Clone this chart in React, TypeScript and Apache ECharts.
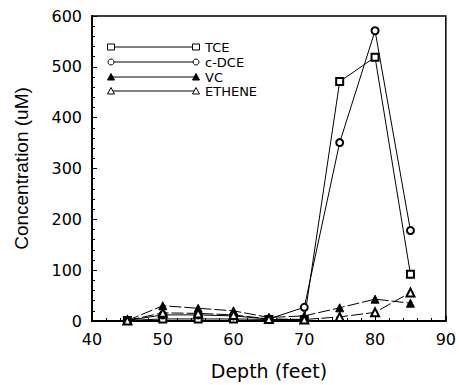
import React, { useEffect, useRef } from "react";
import * as echarts from "echarts";

const depths = [45, 50, 55, 60, 65, 70, 75, 80, 85];
const tce = [1, 4, 4, 4, 3, 3, 471, 519, 92];
const cdce = [1, 12, 12, 10, 4, 27, 351, 571, 178];
const vc = [1, 30, 25, 20, 7, 10, 26, 43, 35];
const ethene = [1, 16, 15, 12, 4, 3, 8, 17, 56];
const seriesNames = ["TCE", "c-DCE", "VC", "ETHENE"];

const WIDE = "DejaVu Sans, Verdana, sans-serif";
const NARROW = "Liberation Sans, Arial, Helvetica, sans-serif";

export default function App() {
  const ref = useRef<HTMLDivElement>(null);
  useEffect(() => {
    const chart = echarts.init(ref.current!, null, { renderer: "svg" });
    const pairs = (vals: number[]) => depths.map((d, i) => [d, vals[i]]);
    const mk = (name: string, vals: number[], symbol: string, dashed: boolean, size: number) => ({
      name,
      type: "line",
      data: pairs(vals),
      symbol,
      symbolSize: size,
      showAllSymbol: true,
      lineStyle: { color: "#000", width: 1, type: dashed ? [12, 3] : "solid" },
      itemStyle: { color: "#000", borderColor: "#000", borderWidth: 1 },
      z: 3,
    });
    const legendY = [47, 62, 77, 91];
    const x1 = 111, x2 = 196, tx = 205;
    const legendEls: any[] = [];
    seriesNames.forEach((name, i) => {
      const y = legendY[i];
      legendEls.push({
        type: "line",
        shape: { x1, y1: y, x2, y2: y },
        style: { stroke: "#000", lineWidth: 1 },
      });
      [x1, x2].forEach((x) => {
        if (i === 0) {
          legendEls.push({ type: "rect", shape: { x: x - 3.5, y: y - 3, width: 7, height: 6 }, style: { fill: "#fff", stroke: "#000", lineWidth: 1 } });
        } else if (i === 1) {
          legendEls.push({ type: "circle", shape: { cx: x, cy: y, r: 3 }, style: { fill: "#fff", stroke: "#000", lineWidth: 1 } });
        } else {
          legendEls.push({
            type: "polygon",
            shape: { points: [[x, y - 3.5], [x - 3.5, y + 3], [x + 3.5, y + 3]] },
            style: { fill: i === 2 ? "#000" : "#fff", stroke: "#000", lineWidth: 1 },
          });
        }
      });
      legendEls.push({
        type: "text",
        x: tx,
        y,
        style: { text: name, fill: "#000", font: `13px ${WIDE}`, verticalAlign: "middle" },
      });
    });

    chart.setOption({
      animation: false,
      backgroundColor: "#fff",
      grid: { left: 92, top: 16, right: 9, bottom: 56, show: true, borderColor: "#000", borderWidth: 1.5 },
      xAxis: {
        type: "value",
        min: 40,
        max: 90,
        interval: 10,
        name: "Depth (feet)",
        nameLocation: "middle",
        nameGap: 40,
        nameTextStyle: { color: "#000", fontSize: 19, fontFamily: WIDE, verticalAlign: "top" },
        axisLine: { show: true, lineStyle: { color: "#000", width: 2 } },
        axisTick: { show: true, inside: true, length: 5, lineStyle: { color: "#000" } },
        minorTick: { show: true, splitNumber: 5, length: 3, lineStyle: { color: "#000" } },
        axisLabel: { color: "#000", fontSize: 16, fontFamily: WIDE, margin: 10 },
        splitLine: { show: false },
      },
      yAxis: {
        type: "value",
        min: 0,
        max: 600,
        interval: 100,
        name: "Concentration (uM)",
        nameLocation: "middle",
        nameGap: 61,
        nameRotate: 90,
        nameTextStyle: { color: "#000", fontSize: 19, fontFamily: NARROW },
        axisLine: { show: true, lineStyle: { color: "#000", width: 2 } },
        axisTick: { show: true, inside: true, length: 5, lineStyle: { color: "#000" } },
        minorTick: { show: true, splitNumber: 5, length: 3, lineStyle: { color: "#000" } },
        axisLabel: { color: "#000", fontSize: 16, fontFamily: WIDE, margin: 10 },
        splitLine: { show: false },
      },
      series: [
        mk(seriesNames[0], tce, "emptyRect", false, 7),
        mk(seriesNames[1], cdce, "emptyCircle", false, 7),
        mk(seriesNames[2], vc, "triangle", true, 8),
        mk(seriesNames[3], ethene, "emptyTriangle", true, 8),
      ],
      graphic: legendEls,
    });
    return () => chart.dispose();
  }, []);
  return <div ref={ref} style={{ position: "fixed", left: 0, top: 0, width: 459, height: 385 }} />;
}
